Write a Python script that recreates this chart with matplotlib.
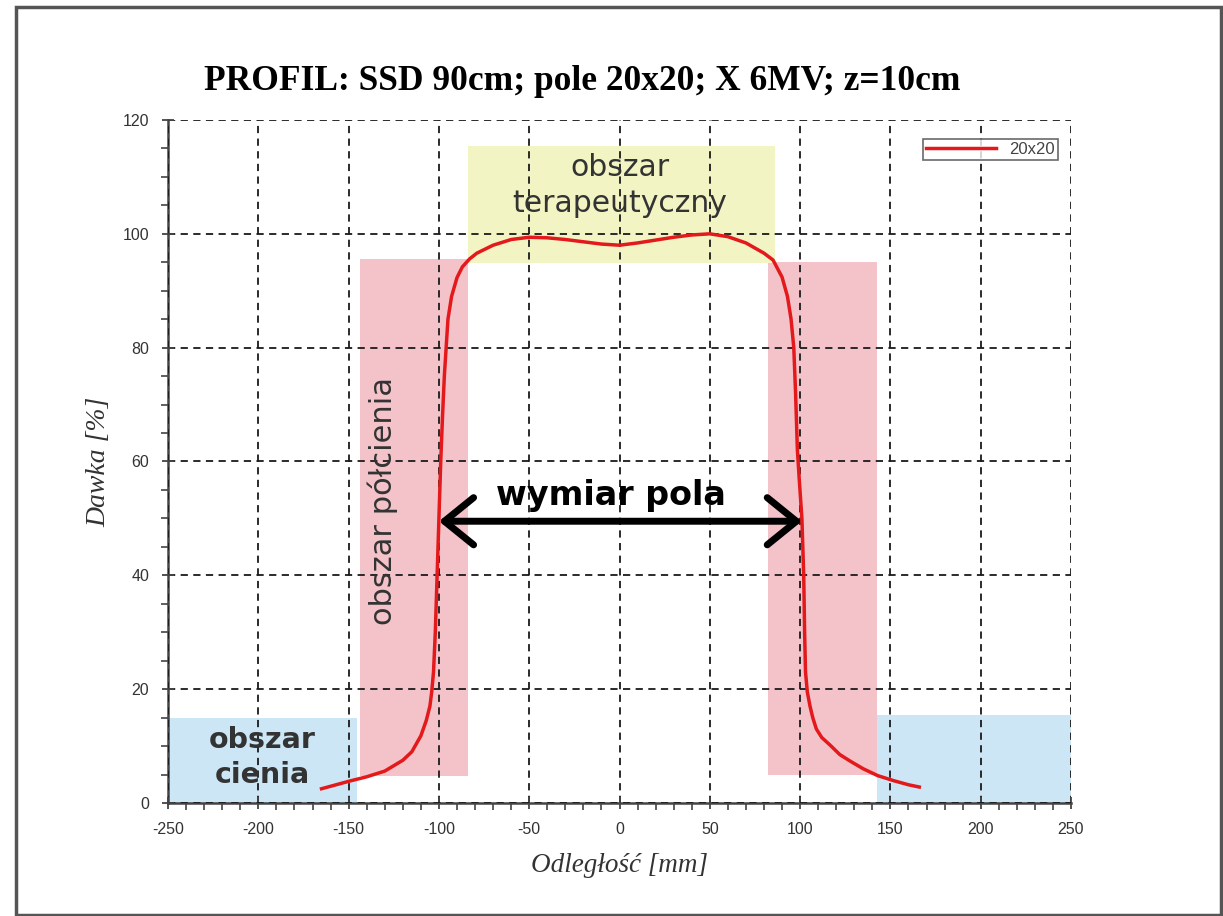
import matplotlib
matplotlib.use("Agg")
from matplotlib import pyplot as plt
from matplotlib.patches import Rectangle
from matplotlib.ticker import MultipleLocator

plt.rcParams['axes.unicode_minus'] = False

# profil dawki (odczyt z wykresu)
odleglosc = [-165, -150, -140, -130, -120, -115, -110, -107, -105, -104, -103, -102,
             -101, -100, -99, -98, -97, -96, -95, -93, -90, -87, -83, -79, -70, -60,
             -50, -40, -30, -20, -10, 0, 10, 20, 30, 40, 50, 60, 70, 80, 85, 90, 93,
             95, 96.5, 97.5, 98.5, 99.5, 101, 102, 102.5, 103, 104, 105.5, 107, 109,
             112, 116.5, 122, 128, 135, 143, 152, 160, 166]
dawka = [2.5, 3.8, 4.6, 5.6, 7.5, 9.0, 11.8, 14.5, 17.0, 19.5, 23, 30,
         40, 50, 60, 68, 75, 80, 85, 89, 92.3, 94.2, 95.6, 96.6, 98.0, 99.0,
         99.4, 99.3, 99.0, 98.6, 98.2, 98.0, 98.4, 98.9, 99.4, 99.8, 100.0, 99.5, 98.4, 96.6, 95.4, 92.4, 89,
         85, 80, 72, 62, 57, 50, 40, 30, 23, 19.5, 17, 15, 13,
         11.5, 10.2, 8.5, 7.3, 6.0, 4.8, 3.9, 3.2, 2.8]

# obszary: (x0, x1, y0, y1, kolor)
obszary = [
    (-250, -145.3, 0, 15.0, '#cce6f6'),
    (142.6, 250, 0, 15.5, '#cce6f6'),
    (-143.7, -84, 4.7, 95.6, '#f4c3c9'),
    (82.2, 142.6, 4.9, 95.0, '#f4c3c9'),
    (-84, 86.1, 94.9, 115.5, '#f2f5c3'),
]

fig = plt.figure(figsize=(12.23, 9.16), dpi=100)
ax = fig.add_axes([0.1374, 0.1234, 0.7383, 0.7456])

for x0, x1, y0, y1, kolor in obszary:
    ax.add_patch(Rectangle((x0, y0), x1 - x0, y1 - y0, facecolor=kolor,
                           edgecolor='none', zorder=0))

ax.plot(odleglosc, dawka, color='#e3191b', lw=2.5, label='20x20', zorder=3)

ax.set_xlim(-250, 250)
ax.set_ylim(0, 120)
ax.xaxis.set_major_locator(MultipleLocator(50))
ax.xaxis.set_minor_locator(MultipleLocator(10))
ax.yaxis.set_major_locator(MultipleLocator(20))
ax.yaxis.set_minor_locator(MultipleLocator(5))
ax.grid(True, which='major', color='#1a1a1a', lw=1.3, linestyle=(0, (4, 3)), zorder=1)
ax.set_axisbelow(False)
for s in ['top', 'right']:
    ax.spines[s].set_visible(False)
for s in ['left', 'bottom']:
    ax.spines[s].set_color('#444444')
    ax.spines[s].set_linewidth(1.8)
ax.tick_params(which='major', direction='inout', length=9, width=1.3, colors='#444444',
               labelsize=11.5, labelcolor='#333333', pad=9)
ax.tick_params(which='minor', direction='out', length=5, width=1.2, colors='#444444')
for lab in ax.get_xticklabels() + ax.get_yticklabels():
    lab.set_family('Liberation Sans')

fig.text(582 / 1223, 1 - 82 / 916, 'PROFIL: SSD 90cm; pole 20x20; X 6MV; z=10cm',
         family='Liberation Serif', fontweight='bold', fontsize=25.5,
         ha='center', va='center')
ax.set_xlabel('Odległość [mm]', family='Liberation Serif', style='italic', fontsize=19.5,
              color='#333333', labelpad=12)
ax.set_ylabel('Dawka [%]', family='Liberation Serif', style='italic', fontsize=20,
              color='#333333', labelpad=8)

leg = ax.legend(loc='upper right', bbox_to_anchor=(0.995, 0.985), fontsize=12,
                frameon=True, fancybox=False, borderpad=0.2, handlelength=4.2,
                labelcolor='#444444')
leg.get_frame().set_edgecolor('#444444')
leg.get_frame().set_linewidth(1.2)
for t in leg.get_texts():
    t.set_family('Liberation Sans')

ax.text(0, 108.5, 'obszar\nterapeutyczny', ha='center', va='center', fontsize=21.5,
        color='#333333', family='DejaVu Sans', linespacing=1.3, zorder=4)
ax.text(-131, 53, 'obszar półcienia', rotation=90, ha='center', va='center',
        fontsize=22, color='#333333', family='DejaVu Sans', zorder=4)
ax.text(-198, 8, 'obszar\ncienia', ha='center', va='center', fontsize=20.5,
        color='#333333', family='DejaVu Sans', fontweight='bold', linespacing=1.3, zorder=4)
ax.text(-5, 54, 'wymiar pola', ha='center', va='center', fontsize=24,
        color='black', family='DejaVu Sans', fontweight='bold', zorder=4)
ax.annotate('', xy=(-100, 49.5), xytext=(101, 49.5),
            arrowprops=dict(arrowstyle='<->,head_length=2.1,head_width=1.7',
                            color='black', lw=5, shrinkA=0, shrinkB=0,
                            capstyle='round', joinstyle='round'), zorder=4)

# ramka rysunku
fig.patches.append(Rectangle((16 / 1223, 1 / 916), 1205 / 1223, 908 / 916,
                             transform=fig.transFigure, fill=False,
                             edgecolor='#555555', lw=2.5))

fig.savefig('out.png', dpi=100)
